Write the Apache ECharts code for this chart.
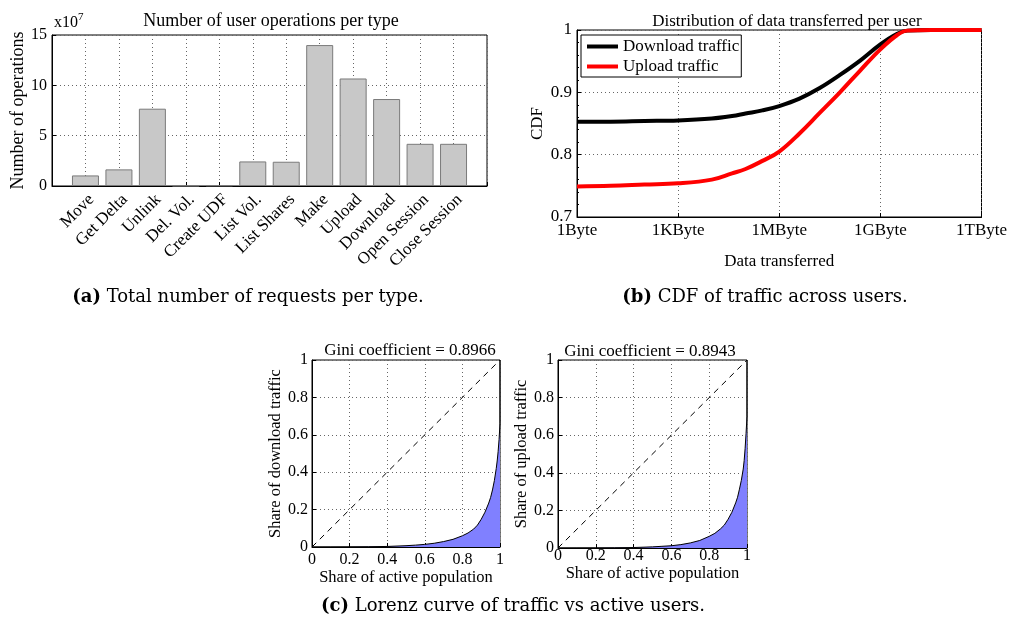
<!DOCTYPE html>
<html>
<head>
<meta charset="utf-8">
<script src="https://cdn.jsdelivr.net/npm/echarts@6/dist/echarts.min.js"></script>
<style>
html,body{margin:0;padding:0;background:#fff;}
#c{width:1010px;height:621px;}
</style>
</head>
<body>
<div id="c"></div>
<script>
// ---- Panel (a): operations per type (x10^7)
const opsCategories = ['Move','Get Delta','Unlink','Del. Vol.','Create UDF','List Vol.','List Shares','Make','Upload','Download','Open Session','Close Session'];
const opsValues = [1.05, 1.65, 7.68, 0.03, 0.06, 2.44, 2.41, 14.0, 10.68, 8.64, 4.19, 4.19];

// ---- Panel (b): CDF of data transferred per user (x = log10 bytes)
const byteLabels = ['1Byte','1KByte','1MByte','1GByte','1TByte'];
const cdfExp      = [0, 1, 2, 3, 4, 4.6, 5, 5.5, 6, 6.6, 7.2, 7.8, 8.4, 9, 9.5, 9.8, 10.5, 12];
const downloadCdf = [0.853, 0.853, 0.854, 0.855, 0.858, 0.862, 0.866, 0.871, 0.878, 0.890, 0.907, 0.928, 0.951, 0.977, 0.994, 0.999, 1, 1];
const uploadCdf   = [0.749, 0.750, 0.752, 0.754, 0.760, 0.770, 0.777, 0.790, 0.805, 0.834, 0.867, 0.900, 0.935, 0.969, 0.992, 0.999, 1, 1];

// ---- Panel (c): Lorenz curves
const lorenzX        = [0, 0.1, 0.2, 0.3, 0.4, 0.5, 0.55, 0.6, 0.65, 0.7, 0.75, 0.8, 0.83, 0.86, 0.88, 0.9, 0.92, 0.94, 0.95, 0.96, 0.97, 0.98, 0.985, 0.99, 0.995, 1, 1];
const lorenzDownload = [0, 0.0002, 0.0006, 0.0015, 0.003, 0.007, 0.010, 0.014, 0.020, 0.029, 0.041, 0.060, 0.075, 0.096, 0.117, 0.148, 0.186, 0.235, 0.265, 0.305, 0.355, 0.42, 0.46, 0.51, 0.575, 0.66, 1];
const lorenzUpload   = [0, 0.0002, 0.0005, 0.0012, 0.0025, 0.006, 0.009, 0.012, 0.018, 0.027, 0.040, 0.062, 0.078, 0.102, 0.122, 0.153, 0.19, 0.24, 0.27, 0.313, 0.36, 0.42, 0.465, 0.53, 0.61, 0.70, 1];
const equalityLine   = [0, 1];
const giniDownload = '0.8966';
const giniUpload   = '0.8943';

const serif = 'Liberation Serif';
const txt = {color:'#000', fontFamily:serif, fontSize:16};
const txt17 = {color:'#000', fontFamily:serif, fontSize:17};
const gridStyle = {show:true, borderColor:'#000', borderWidth:1, backgroundColor:'#fff'};
const dotted = {show:true, lineStyle:{color:'#666', type:[1,3], width:1}};
const axLine = {show:true, onZero:false, lineStyle:{color:'#000', width:1}};
const tick = {show:true, inside:true, length:4, lineStyle:{color:'#000'}};

function lorenzAxes(gi, yName, xMargin, xGap, yGap){
  return {
    x:{gridIndex:gi, type:'value', min:0, max:1, interval:0.2, axisLine:axLine, axisTick:tick,
       axisLabel:Object.assign({margin:xMargin}, txt), splitLine:dotted,
       name:'Share of active population', nameLocation:'middle', nameGap:xGap,
       nameTextStyle:{color:'#000', fontFamily:serif, fontSize:16.5}},
    y:{gridIndex:gi, type:'value', min:0, max:1, interval:0.2, axisLine:axLine, axisTick:tick,
       axisLabel:Object.assign({margin:4}, txt), splitLine:dotted,
       name:yName, nameLocation:'middle', nameGap:yGap,
       nameTextStyle:{color:'#000', fontFamily:serif, fontSize:16.5}}
  };
}
const lz1 = lorenzAxes(2, 'Share of download traffic', 5, 21, 28);
const lz2 = lorenzAxes(3, 'Share of upload traffic', 0, 12, 27);

const capRich = {b:{fontFamily:'DejaVu Serif', fontWeight:'bold', fontSize:18, fill:'#000'}};

const option = {
  animation:false,
  backgroundColor:'#fff',
  grid:[
    Object.assign({left:52, top:35, width:435, height:151}, gridStyle),
    Object.assign({left:577, top:30, width:406, height:187}, gridStyle),
    Object.assign({left:312, top:360, width:188, height:187}, gridStyle),
    Object.assign({left:558, top:360, width:189, height:188}, gridStyle)
  ],
  xAxis:[
    {gridIndex:0, type:'value', min:0, max:13, interval:1, axisLine:axLine, axisTick:tick,
     axisLabel:Object.assign({rotate:45, margin:5, verticalAlign:'top', formatter:v => opsCategories[v-1] || ''}, txt17),
     splitLine:dotted},
    {gridIndex:1, type:'log', logBase:1000, min:1, max:1e12, axisLine:axLine, axisTick:tick,
     axisLabel:Object.assign({margin:5, formatter:v => byteLabels[Math.round(Math.log(v)/Math.log(1000))]}, txt17),
     splitLine:dotted, name:'Data transferred', nameLocation:'middle', nameGap:36, nameTextStyle:txt17},
    lz1.x, lz2.x
  ],
  yAxis:[
    {gridIndex:0, type:'value', min:0, max:15, interval:5, axisLine:axLine, axisTick:tick,
     axisLabel:Object.assign({margin:5}, txt), splitLine:dotted,
     name:'Number of operations', nameLocation:'middle', nameGap:24,
     nameTextStyle:{color:'#000', fontFamily:serif, fontSize:18}},
    {gridIndex:1, type:'value', min:0.7, max:1, interval:0.1, axisLine:axLine, axisTick:tick,
     minorTick:{show:true, splitNumber:5, length:2, lineStyle:{color:'#000'}},
     axisLabel:Object.assign({margin:5}, txt17), splitLine:dotted,
     name:'CDF', nameLocation:'middle', nameGap:31, nameTextStyle:txt17},
    lz1.y, lz2.y
  ],
  legend:{
    data:['Download traffic','Upload traffic'], orient:'vertical', left:581, top:35,
    backgroundColor:'#fff', borderColor:'#000', borderWidth:1, borderRadius:0,
    padding:[3,2,2,6], itemWidth:31, itemHeight:4, itemGap:3, icon:'rect',
    textStyle:txt17
  },
  series:[
    {type:'bar', xAxisIndex:0, yAxisIndex:0, barWidth:27,
     data:opsValues.map((v,i)=>[i+1, v]),
     itemStyle:{color:'#c8c8c8', borderColor:'#7a7a7a', borderWidth:1}},
    {name:'Download traffic', type:'line', xAxisIndex:1, yAxisIndex:1, showSymbol:false, smooth:0.4,
     data:cdfExp.map((e,i)=>[Math.pow(10,e), downloadCdf[i]]),
     lineStyle:{color:'#000', width:4}, itemStyle:{color:'#000'}},
    {name:'Upload traffic', type:'line', xAxisIndex:1, yAxisIndex:1, showSymbol:false, smooth:0.4,
     data:cdfExp.map((e,i)=>[Math.pow(10,e), uploadCdf[i]]),
     lineStyle:{color:'#ff0000', width:4}, itemStyle:{color:'#ff0000'}},
    {type:'line', xAxisIndex:2, yAxisIndex:2, showSymbol:false,
     data:lorenzX.map((x,i)=>[x, lorenzDownload[i]]),
     lineStyle:{color:'#000', width:1}, areaStyle:{color:'#8080ff', opacity:1}},
    {type:'line', xAxisIndex:2, yAxisIndex:2, showSymbol:false,
     data:equalityLine.map(v=>[v,v]), lineStyle:{color:'#000', width:1, type:[6,5]}},
    {type:'line', xAxisIndex:3, yAxisIndex:3, showSymbol:false,
     data:lorenzX.map((x,i)=>[x, lorenzUpload[i]]),
     lineStyle:{color:'#000', width:1}, areaStyle:{color:'#8080ff', opacity:1}},
    {type:'line', xAxisIndex:3, yAxisIndex:3, showSymbol:false,
     data:equalityLine.map(v=>[v,v]), lineStyle:{color:'#000', width:1, type:[6,5]}}
  ],
  graphic:[
    {type:'text', x:54, y:23, style:{text:'x10{s|7}', fill:'#000', font:'16px '+serif, verticalAlign:'middle',
      rich:{s:{fontSize:11, fontFamily:serif, fill:'#000', padding:[0,0,11,0]}}}},
    {type:'text', x:271, y:21, style:{text:'Number of user operations per type', fill:'#000', font:'18px '+serif, align:'center', verticalAlign:'middle'}},
    {type:'text', x:787, y:22, style:{text:'Distribution of data transferred per user', fill:'#000', font:'17px '+serif, align:'center', verticalAlign:'middle'}},
    {type:'text', x:410, y:351, style:{text:'Gini coefficient = ' + giniDownload, fill:'#000', font:'17px '+serif, align:'center', verticalAlign:'middle'}},
    {type:'text', x:650, y:352, style:{text:'Gini coefficient = ' + giniUpload, fill:'#000', font:'17px '+serif, align:'center', verticalAlign:'middle'}},
    {type:'text', x:248, y:297, style:{text:'{b|(a)} Total number of requests per type.', fill:'#000', font:'18px DejaVu Serif', align:'center', verticalAlign:'middle', rich:capRich}},
    {type:'text', x:765, y:297, style:{text:'{b|(b)} CDF of traffic across users.', fill:'#000', font:'18px DejaVu Serif', align:'center', verticalAlign:'middle', rich:capRich}},
    {type:'text', x:513, y:606, style:{text:'{b|(c)} Lorenz curve of traffic vs active users.', fill:'#000', font:'18px DejaVu Serif', align:'center', verticalAlign:'middle', rich:capRich}}
  ]
};
const chart = echarts.init(document.getElementById('c'), null, {renderer:'canvas'});
chart.setOption(option);
</script>
</body>
</html>
